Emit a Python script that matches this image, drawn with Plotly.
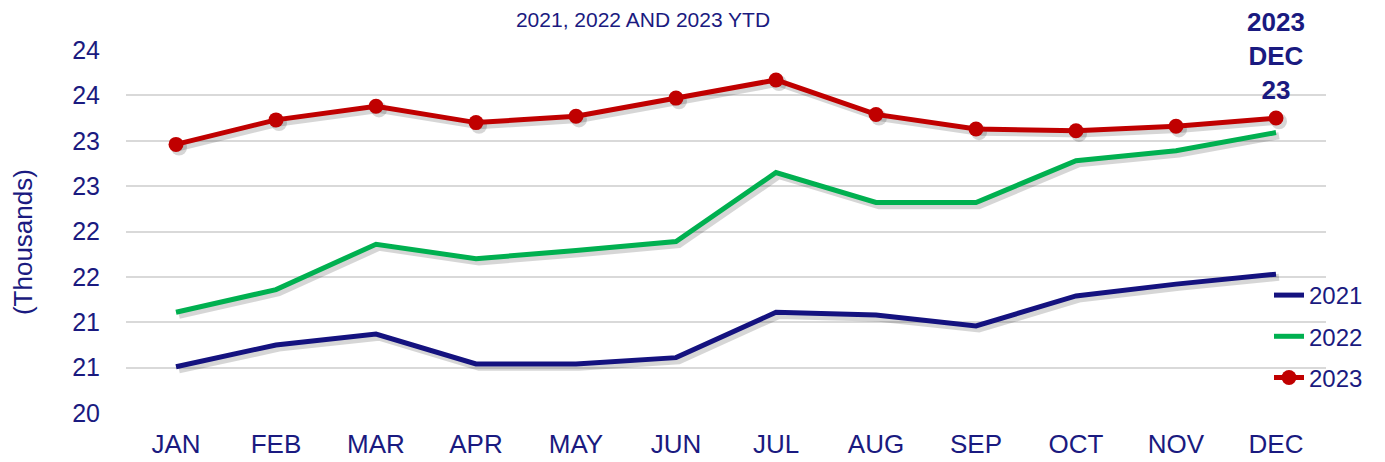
import plotly.graph_objects as go

months = ["JAN", "FEB", "MAR", "APR", "MAY", "JUN", "JUL", "AUG", "SEP", "OCT", "NOV", "DEC"]
v2021 = [20.51, 20.75, 20.87, 20.54, 20.54, 20.61, 21.11, 21.08, 20.96, 21.29, 21.42, 21.53]
v2022 = [21.11, 21.36, 21.86, 21.70, 21.79, 21.89, 22.65, 22.32, 22.32, 22.78, 22.89, 23.09]
v2023 = [22.96, 23.23, 23.38, 23.20, 23.27, 23.47, 23.67, 23.29, 23.13, 23.11, 23.16, 23.25]
ytick_vals = [20, 20.5, 21, 21.5, 22, 22.5, 23, 23.5, 24]
ytick_text = ["20", "21", "21", "22", "22", "23", "23", "24", "24"]

NAVY = "#14127F"
TEXT = "#1A1A80"
GREEN = "#00B050"
RED = "#C00000"
SHADOW = "rgba(0,0,0,0.16)"
FONT = "Liberation Sans, Arial, sans-serif"

W, H = 1377, 454   # page body has an 8px margin
series = [("2021", v2021, NAVY, False), ("2022", v2022, GREEN, False), ("2023", v2023, RED, True)]

fig = go.Figure()
# shadows (offset axes)
for name, vals, col, mk in series:
    fig.add_trace(go.Scatter(x=months, y=vals, mode="lines+markers" if mk else "lines",
                             line=dict(color=SHADOW, width=7),
                             marker=dict(color=SHADOW, size=16),
                             xaxis="x2", yaxis="y2", showlegend=False, hoverinfo="skip"))
# real series
for i, (name, vals, col, mk) in enumerate(series):
    fig.add_trace(go.Scatter(x=months, y=vals, name=name,
                             mode="lines+markers" if mk else "lines",
                             line=dict(color=col, width=5),
                             marker=dict(color=col, size=15),
                             xaxis="x3", yaxis="y3", legendgroup="g%d" % i))

fig.add_annotation(x=months[-1], y=v2023[-1], xref="x", yref="y",
                   text="<b>2023<br>DEC<br>%d</b>" % round(v2023[-1]),
                   showarrow=False, yanchor="bottom", yshift=11,
                   font=dict(family=FONT, size=26, color=TEXT))

# y-axis title (placed slightly below the axis centre, as in the reference)
fig.add_annotation(text="(Thousands)", xref="paper", yref="paper",
                   x=-0.0858, y=0.471, xanchor="center", yanchor="middle",
                   textangle=-90, showarrow=False,
                   font=dict(family=FONT, size=26, color=TEXT))

xr = [-0.5, 11.5]
yr = [20, 24]
dx = 0.03   # ~3px
dy = 0.035  # ~3px

fig.update_layout(
    width=W, height=H,
    margin=dict(l=118, r=59, t=42, b=49),
    paper_bgcolor="white", plot_bgcolor="white",
    font=dict(family=FONT, color=TEXT),
    title=dict(text="2021, 2022 AND 2023 YTD", x=635 / W, xanchor="center",
               xref="container", y=1 - 12 / H, yanchor="middle", yref="container",
               font=dict(family=FONT, size=21, color=TEXT)),
    showlegend=True,
    legend=dict(x=0.9525, xanchor="left", y=0.3857, yanchor="top",
                font=dict(family=FONT, size=24, color=TEXT),
                bgcolor="rgba(0,0,0,0)", tracegroupgap=7),
    xaxis=dict(range=xr, type="category", categoryarray=months,
               showgrid=False, zeroline=False, showline=False, automargin=False,
               ticks="outside", ticklen=8, tickcolor="rgba(0,0,0,0)",
               tickfont=dict(family=FONT, size=26, color=TEXT)),
    yaxis=dict(range=yr, tickvals=ytick_vals, ticktext=ytick_text,
               showgrid=True, gridcolor="#D9D9D9", gridwidth=1.5,
               zeroline=False, showline=False, automargin=False,
               ticks="outside", ticklen=20, tickcolor="rgba(0,0,0,0)",
               tickfont=dict(family=FONT, size=25, color=TEXT)),
    xaxis2=dict(overlaying="x", range=[xr[0] - dx, xr[1] - dx], type="category",
                categoryarray=months, visible=False),
    yaxis2=dict(overlaying="y", range=[yr[0] + dy, yr[1] + dy], visible=False),
    xaxis3=dict(overlaying="x", range=xr, type="category", categoryarray=months, visible=False),
    yaxis3=dict(overlaying="y", range=yr, visible=False),
)

fig.write_html("out.html")
